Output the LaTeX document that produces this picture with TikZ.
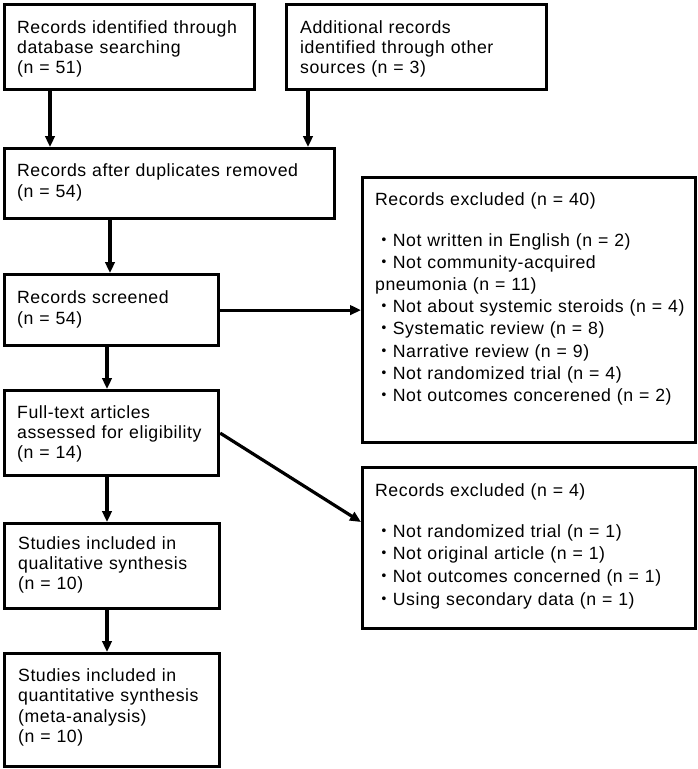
\documentclass[tikz,border=0pt]{standalone}
\usepackage{fontspec}
\setmainfont[LetterSpace=3]{Liberation Sans}
\newfontfamily\cjkfont{Noto Sans CJK JP}
\usetikzlibrary{arrows.meta}
\newcommand\bul{{\cjkfont ・}}
\begin{document}
\begin{tikzpicture}[x=1pt,y=-1pt,
  box/.style={draw, line width=3.2pt, anchor=north west, inner sep=0pt},
  txt/.style={anchor=base west, inner sep=0pt, align=left, text width=330pt,
    font=\fontsize{17.7}{20}\selectfont},
  txtw/.style={txt, font=\fontsize{17.7}{22.2}\selectfont},
  arr/.style={line width=3.2pt, -{Triangle[length=11pt,width=9.5pt]}}]
\path[use as bounding box] (0,0) rectangle (697,769);

\node[box, minimum width=250pt, minimum height=85pt] (b1) at (3,3) {};
\node[txt] (t1) at ([shift={(14pt,-30pt)}]b1.north west) {Records identified through\\database searching\\(n = 51)};

\node[box, minimum width=260pt, minimum height=85pt] (b2) at (285,3) {};
\node[txt] (t2) at ([shift={(15pt,-30pt)}]b2.north west) {Additional records\\identified through other\\sources (n = 3)};

\node[box, minimum width=330pt, minimum height=70pt] (b3) at (3,147) {};
\node[txt, font=\fontsize{17.7}{21.7}\selectfont] (t3) at ([shift={(14pt,-29pt)}]b3.north west) {Records after duplicates removed\\(n = 54)};

\node[box, minimum width=214pt, minimum height=71pt] (b4) at (3,273) {};
\node[txt, font=\fontsize{17.7}{21}\selectfont] (t4) at ([shift={(14pt,-30pt)}]b4.north west) {Records screened\\(n = 54)};

\node[box, minimum width=214pt, minimum height=85pt] (b5) at (3,389) {};
\node[txt] (t5) at ([shift={(14pt,-29pt)}]b5.north west) {Full-text articles\\assessed for eligibility\\(n = 14)};

\node[box, minimum width=215pt, minimum height=85pt] (b6) at (3,522) {};
\node[txt] (t6) at ([shift={(15pt,-27pt)}]b6.north west) {Studies included in\\qualitative synthesis\\(n = 10)};

\node[box, minimum width=215pt, minimum height=113pt] (b7) at (3,652) {};
\node[txt, font=\fontsize{17.7}{20.5}\selectfont] (t7) at ([shift={(15pt,-29pt)}]b7.north west) {Studies included in\\quantitative synthesis\\(meta-analysis)\\(n = 10)};

\node[box, minimum width=333pt, minimum height=265pt] (e1) at (361,176) {};
\node[txtw] (te1) at ([shift={(14pt,-29pt)}]e1.north west) {Records excluded (n = 40)\\[18.8pt]
\bul Not written in English (n = 2)\\
\bul Not community-acquired\\
pneumonia (n = 11)\\
\bul Not about systemic steroids (n = 4)\\
\bul Systematic review (n = 8)\\
\bul Narrative review (n = 9)\\
\bul Not randomized trial (n = 4)\\
\bul Not outcomes concerened (n = 2)};

\node[box, minimum width=333pt, minimum height=161pt] (e2) at (361,466) {};
\node[txt, font=\fontsize{17.7}{22.7}\selectfont] (te2) at ([shift={(14pt,-30pt)}]e2.north west) {Records excluded (n = 4)\\[18.3pt]
\bul Not randomized trial (n = 1)\\
\bul Not original article (n = 1)\\
\bul Not outcomes concerned (n = 1)\\
\bul Using secondary data (n = 1)};

\coordinate (a1) at ([xshift=47pt]b1.south west);
\coordinate (a2) at ([xshift=23pt]b2.south west);
\coordinate (a3) at ([xshift=107pt]b3.south west);
\coordinate (a4) at ([xshift=104pt]b4.south west);
\coordinate (a5) at ([xshift=104pt]b5.south west);
\coordinate (a6) at ([xshift=104pt]b6.south west);
\coordinate (a7) at ([yshift=-56pt]e2.north west);

\draw[arr] (a1) -- (a1 |- b3.north);
\draw[arr] (a2) -- (a2 |- b3.north);
\draw[arr] (a3) -- (a3 |- b4.north);
\draw[arr] (a4) -- (a4 |- b5.north);
\draw[arr] (a5) -- (a5 |- b6.north);
\draw[arr] (a6) -- (a6 |- b7.north);
\draw[arr] (b4.east) -- (b4.east -| e1.west);
\draw[arr] (b5.east) -- (a7);
\end{tikzpicture}
\end{document}
